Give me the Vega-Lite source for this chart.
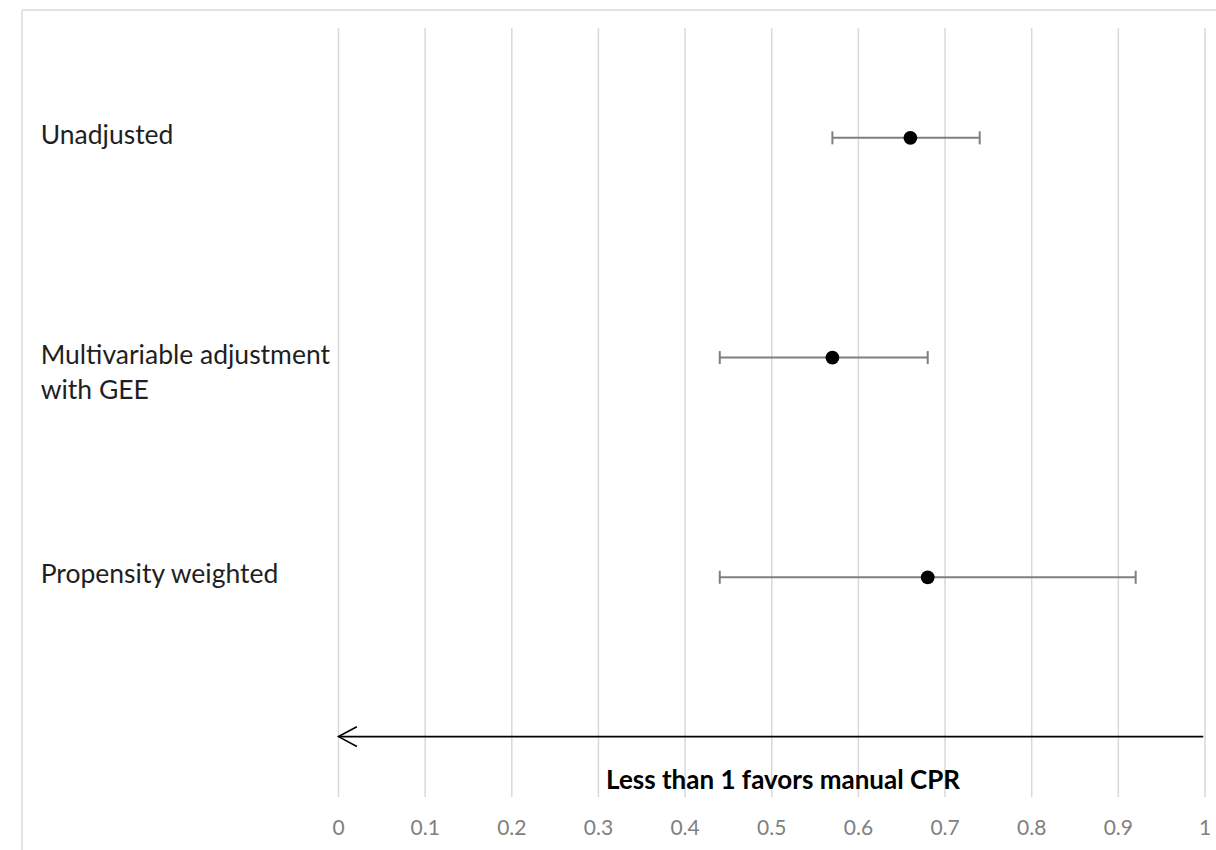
{
  "$schema": "https://vega.github.io/schema/vega-lite/v6.json",
  "autosize": {"type": "none"},
  "padding": {"left": 22, "top": 10, "right": 0, "bottom": 0},
  "width": 1194,
  "height": 840,
  "background": "white",
  "config": {"view": {"stroke": null}, "font": "Lato"},
  "datasets": {
    "single": [{}],
    "estimates": [
      {"label": "Unadjusted", "row": 1, "est": 0.66, "lo": 0.57, "hi": 0.74},
      {"label": ["Multivariable adjustment", "with GEE"], "row": 3, "est": 0.57, "lo": 0.44, "hi": 0.68},
      {"label": "Propensity weighted", "row": 5, "est": 0.68, "lo": 0.44, "hi": 0.92}
    ],
    "ticks": [
      {"v": 0}, {"v": 0.1}, {"v": 0.2}, {"v": 0.3}, {"v": 0.4}, {"v": 0.5},
      {"v": 0.6}, {"v": 0.7}, {"v": 0.8}, {"v": 0.9}, {"v": 1}
    ],
    "arrow": [
      {"seg": "shaft", "i": 0, "x": 0.998, "y": 6.45},
      {"seg": "shaft", "i": 1, "x": 0, "y": 6.45},
      {"seg": "head", "i": 0, "x": 0.0212, "y": 6.36},
      {"seg": "head", "i": 1, "x": 0, "y": 6.45},
      {"seg": "head", "i": 2, "x": 0.0212, "y": 6.54}
    ]
  },
  "layer": [
    {
      "description": "outer frame, top edge",
      "data": {"name": "single"},
      "mark": {"type": "rule", "color": "#e3e3e3", "strokeWidth": 2},
      "encoding": {
        "x": {"datum": -0.36526, "type": "quantitative", "scale": {"domain": [-0.36526, 1.012695], "nice": false, "zero": false}, "axis": null},
        "x2": {"datum": 1.012695},
        "y": {"datum": -0.1638, "type": "quantitative", "scale": {"domain": [-0.1638, 7.4824], "reverse": true, "nice": false, "zero": false}, "axis": null}
      }
    },
    {
      "description": "outer frame, left edge",
      "data": {"name": "single"},
      "mark": {"type": "rule", "color": "#e3e3e3", "strokeWidth": 2},
      "encoding": {
        "x": {"datum": -0.36526, "type": "quantitative"},
        "y": {"datum": -0.1638, "type": "quantitative"},
        "y2": {"datum": 7.4824}
      }
    },
    {
      "description": "vertical gridlines",
      "data": {"name": "ticks"},
      "mark": {"type": "rule", "color": "#d9d9d9", "strokeWidth": 1.5},
      "encoding": {
        "x": {"field": "v", "type": "quantitative"},
        "y": {"datum": 0, "type": "quantitative"},
        "y2": {"datum": 7}
      }
    },
    {
      "description": "tick labels along the bottom",
      "data": {"name": "ticks"},
      "mark": {"type": "text", "align": "center", "baseline": "alphabetic", "fontSize": 21, "color": "#808080"},
      "encoding": {
        "x": {"field": "v", "type": "quantitative"},
        "y": {"datum": 7.346, "type": "quantitative"},
        "text": {"field": "v", "type": "quantitative", "format": ".1~f"}
      }
    },
    {
      "description": "confidence interval bars",
      "data": {"name": "estimates"},
      "mark": {"type": "rule", "color": "#7f7f7f", "strokeWidth": 2},
      "encoding": {
        "x": {"field": "lo", "type": "quantitative"},
        "x2": {"field": "hi"},
        "y": {"field": "row", "type": "quantitative"}
      }
    },
    {
      "description": "lower caps",
      "data": {"name": "estimates"},
      "mark": {"type": "tick", "orient": "vertical", "color": "#7f7f7f", "size": 13, "thickness": 2, "opacity": 1},
      "encoding": {
        "x": {"field": "lo", "type": "quantitative"},
        "y": {"field": "row", "type": "quantitative"}
      }
    },
    {
      "description": "upper caps",
      "data": {"name": "estimates"},
      "mark": {"type": "tick", "orient": "vertical", "color": "#7f7f7f", "size": 13, "thickness": 2, "opacity": 1},
      "encoding": {
        "x": {"field": "hi", "type": "quantitative"},
        "y": {"field": "row", "type": "quantitative"}
      }
    },
    {
      "description": "point estimates",
      "data": {"name": "estimates"},
      "mark": {"type": "circle", "color": "black", "size": 190, "opacity": 1},
      "encoding": {
        "x": {"field": "est", "type": "quantitative"},
        "y": {"field": "row", "type": "quantitative"}
      }
    },
    {
      "description": "row labels",
      "data": {"name": "estimates"},
      "mark": {"type": "text", "align": "left", "baseline": "alphabetic", "fontSize": 26.5, "color": "#1f1f1f", "dy": 6, "lineHeight": 35},
      "encoding": {
        "x": {"datum": -0.3437, "type": "quantitative"},
        "y": {"field": "row", "type": "quantitative"},
        "text": {"field": "label"}
      }
    },
    {
      "description": "direction arrow",
      "data": {"name": "arrow"},
      "mark": {"type": "line", "color": "black", "strokeWidth": 1.6},
      "encoding": {
        "x": {"field": "x", "type": "quantitative"},
        "y": {"field": "y", "type": "quantitative"},
        "detail": {"field": "seg"},
        "order": {"field": "i"}
      }
    },
    {
      "description": "arrow caption",
      "data": {"name": "single"},
      "mark": {"type": "text", "align": "center", "baseline": "alphabetic", "fontSize": 26, "fontWeight": "bold", "color": "black"},
      "encoding": {
        "x": {"datum": 0.513, "type": "quantitative"},
        "y": {"datum": 6.927, "type": "quantitative"},
        "text": {"value": "Less than 1 favors manual CPR"}
      }
    }
  ]
}
